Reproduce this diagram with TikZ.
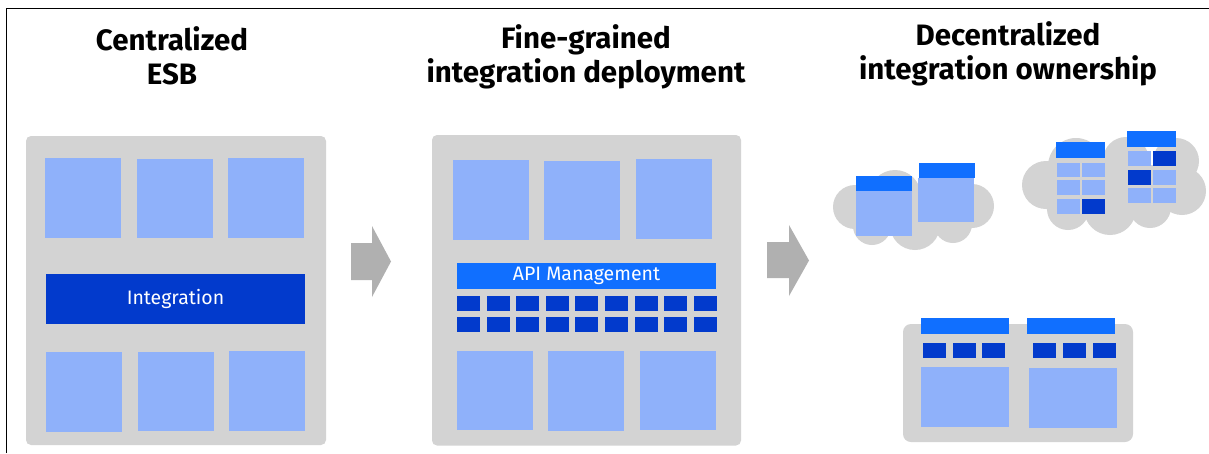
\documentclass[tikz,border=0pt]{standalone}
\usepackage{fontspec}
\setmainfont{Fira Sans}
\definecolor{panelgray}{RGB}{211,211,211}
\definecolor{arrowgray}{RGB}{176,176,176}
\definecolor{paleblue}{RGB}{143,177,250}
\definecolor{deepblue}{RGB}{2,58,204}
\definecolor{brightblue}{RGB}{16,111,255}
\begin{document}
\begin{tikzpicture}[x=1pt,y=-1pt,
  panel/.style={fill=panelgray, rounded corners=5pt},
  svc/.style={fill=paleblue},
  chip/.style={fill=deepblue},
  hdr/.style={fill=brightblue},
  headline/.style={font=\fontsize{29.5}{34}\selectfont\bfseries, anchor=base, inner sep=0pt},
  barnode/.style={draw=none, text=white, font=\fontsize{19.5}{22}\selectfont, inner sep=0pt},
  shift arrow/.style={fill=arrowgray}]
\useasboundingbox (0,0) rectangle (1209,453);
\fill[white] (0,0) rectangle (1209,453);

% outer frame
\draw[line width=1.3pt] (6.5,453) -- (6.5,8.5) -- (1209,8.5);

% ---- headings
\node[headline] (h1a) at (172,50) {Centralized};
\node[headline] (h1b) at (172,84) {ESB};
\node[headline] (h2a) at (586,48) {Fine-grained};
\node[headline] (h2b) at (586,82) {integration deployment};
\node[headline] (h3a) at (1008,45) {Decentralized};
\node[headline] (h3b) at (1008,79) {integration ownership};

% ---- centralized ESB
\fill[panel] (26,136) rectangle (326,445);
\fill[svc] (45,158) rectangle (121,238);
\fill[svc] (137,159) rectangle (213,238);
\fill[svc] (228,158) rectangle (304,238);
\node[barnode, fill=deepblue, minimum width=259pt, minimum height=50pt] (integration) at (175.5,299) {Integration};
\fill[svc] (46,352) rectangle (122,432);
\fill[svc] (138,352) rectangle (214,431);
\fill[svc] (229,351) rectangle (305,431);

% arrow 1
\fill[shift arrow] (351,243) -- (372,243) -- (372,226) -- (391,261.5) -- (372,297) -- (372,280) -- (351,280) -- cycle;

% ---- fine-grained deployment
\fill[panel] (432,135) rectangle (741,445.5);
\fill[svc] (453,160) rectangle (529,240);
\fill[svc] (544,161) rectangle (620,240);
\fill[svc] (636,159) rectangle (712,239);
\node[barnode, fill=brightblue, minimum width=259pt, minimum height=25.5pt] (apim) at (586.5,276) {API Management};
\foreach \x in {457,487,516,546,575,605,635,664,694} {
  \fill[chip] (\x,296) rectangle ++(23,15);
  \fill[chip] (\x,316.5) rectangle ++(23,15);
}
\fill[svc] (457,351) rectangle (533,430);
\fill[svc] (548,351) rectangle (624,431);
\fill[svc] (640,351) rectangle (716,430);

% arrow 2
\fill[shift arrow] (767,242) -- (789,242) -- (789,225) -- (809,260.5) -- (789,296) -- (789,278) -- (767,278) -- cycle;

% ---- decentralized ownership
% cloud 1
\fill[panelgray]
  (855,207) circle[radius=22pt]
  (895,196) circle[radius=26pt]
  (872,226) circle[radius=19pt]
  (915,225) circle[radius=25pt]
  (953,224) circle[radius=19pt]
  (972,206) circle[radius=22pt]
  (946,196) circle[radius=21pt]
  (856,196) rectangle (972,226);
\fill[hdr] (856,176) rectangle (912,191);
\fill[svc] (856,191) rectangle (912,236);
\fill[hdr] (919,163) rectangle (975,178);
\fill[svc] (918,178) rectangle (974,222);

% cloud 2
\fill[panelgray]
  (1046,185) circle[radius=24pt]
  (1076,166) circle[radius=28pt]
  (1068,209) circle[radius=21pt]
  (1110,209) circle[radius=26pt]
  (1150,207) circle[radius=21pt]
  (1182,191) circle[radius=24pt]
  (1176,161) circle[radius=23pt]
  (1126,160) circle[radius=23pt]
  (1046,165) rectangle (1182,209);
\fill[hdr] (1056,142) rectangle (1105,157.5);
\foreach \y/\h in {163/13.5,180/15,199/15} {
  \fill[svc] (1057,\y) rectangle ++(23,\h);
  \fill[svc] (1082,\y) rectangle ++(23,\h);
}
\fill[chip] (1082,199) rectangle ++(23,15);
\fill[hdr] (1127,131) rectangle (1176,147);
\foreach \y in {151,170,188} {
  \fill[svc] (1127.5,\y) rectangle ++(23,14.5);
  \fill[svc] (1153,\y) rectangle ++(23,14.5);
}
\fill[chip] (1153,151) rectangle ++(23,14.5);
\fill[chip] (1127.5,170) rectangle ++(23,14.5);

% shared platform
\fill[panel, rounded corners=8pt] (903,324) rectangle (1133,442);
\fill[hdr] (921,318) rectangle (1009,333.5);
\fill[hdr] (1027,318) rectangle (1115,333.5);
\foreach \x in {923,953,982,1033,1063,1093} {
  \fill[chip] (\x,343) rectangle ++(23,15);
}
\fill[svc] (921,367) rectangle (1009,427);
\fill[svc] (1029,368) rectangle (1117,428);
\end{tikzpicture}
\end{document}
